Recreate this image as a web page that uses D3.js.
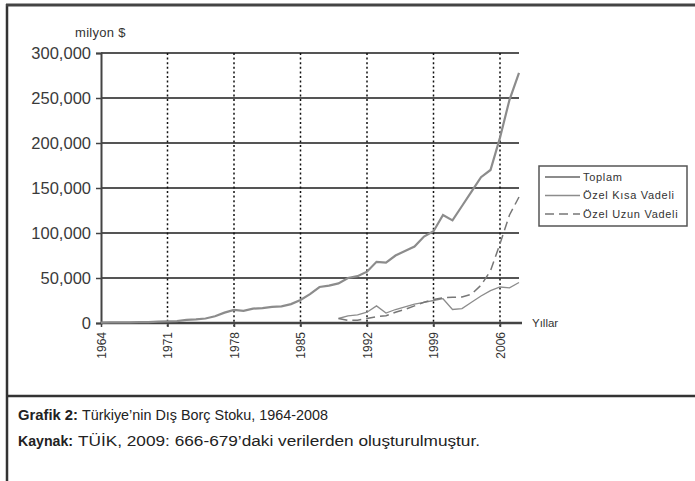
<!DOCTYPE html>
<html><head><meta charset="utf-8">
<script src="https://cdn.jsdelivr.net/npm/d3@7"></script>
<style>
html,body{margin:0;padding:0;background:#fff;}
svg{display:block;}
</style></head>
<body>
<script>
const years = d3.range(1964, 2009);
const toplam = [500,600,700,800,900,1000,1500,1800,2000,3500,4000,5000,7500,11500,14500,13500,16000,16500,18000,18500,21000,25500,32000,40000,41500,44000,50000,52000,57000,68000,67000,75000,80000,85000,96000,102000,120000,114000,130000,146000,162000,170000,206000,248000,278000];
const kisaYears = d3.range(1989, 2009);
const kisa = [5000,8000,9000,12000,19000,11000,15000,18000,21000,23000,25000,27000,15000,16000,23000,30000,36000,40000,39000,45000];
const uzun = [5000,3000,3000,5000,7000,8000,12000,15000,19000,23000,26000,28000,28500,29000,32000,42000,58000,88000,120000,140000];
const yTicks = [0,50000,100000,150000,200000,250000,300000];
const xTicks = [1964,1971,1978,1985,1992,1999,2006];
const seriesNames = ["Toplam","Özel Kısa Vadeli","Özel Uzun Vadeli"];

const W = 695, H = 481;
const svg = d3.select("body").append("svg").attr("width", W).attr("height", H);
const x = d3.scaleLinear().domain([1964, 2008]).range([101, 519]);
const y = d3.scaleLinear().domain([0, 300000]).range([323, 53]);
const font = "'Liberation Sans', Arial, sans-serif";
const narrow = "'Liberation Sans Narrow', 'Arial Narrow', 'Liberation Sans', Arial, sans-serif";

// frame
svg.append("line").attr("x1",7).attr("x2",7).attr("y1",4).attr("y2",H).attr("stroke","#333").attr("stroke-width",2.5);
svg.append("line").attr("x1",6).attr("x2",W).attr("y1",5).attr("y2",5).attr("stroke","#444").attr("stroke-width",3);
svg.append("line").attr("x1",6).attr("x2",W).attr("y1",396).attr("y2",396).attr("stroke","#333").attr("stroke-width",2.5);

// horizontal gridlines
svg.append("g").selectAll("line").data(yTicks.filter(d=>d>0)).join("line")
  .attr("x1", x(1964)).attr("x2", x(2008)).attr("y1", d=>y(d)).attr("y2", d=>y(d))
  .attr("stroke","#555").attr("stroke-width",2);

// vertical dotted gridlines
svg.append("g").selectAll("line").data(xTicks.filter(d=>d>1964)).join("line")
  .attr("x1", d=>x(d)).attr("x2", d=>x(d)).attr("y1", y(300000)).attr("y2", y(0)+4)
  .attr("stroke","#111").attr("stroke-width",1.5).attr("stroke-dasharray","2,2.6");

// y axis
const yAxis = d3.axisLeft(y).tickValues(yTicks).tickFormat(d3.format(",")).tickSize(5).tickPadding(5);
const gy = svg.append("g").attr("transform",`translate(${x(1964)},0)`).call(yAxis);
gy.select(".domain").attr("stroke","#444").attr("stroke-width",2);
gy.selectAll(".tick line").attr("stroke","#444").attr("stroke-width",1.5);
gy.selectAll("text").attr("font-family",font).attr("font-size",16.5).attr("fill","#3a3a3a").attr("dy","0.35em");

// x axis
const xAxis = d3.axisBottom(x).tickValues(xTicks).tickFormat(d3.format("d")).tickSize(4).tickSizeOuter(0);
const gx = svg.append("g").attr("transform",`translate(0,${y(0)})`).call(xAxis);
gx.select(".domain").attr("d", `M${x(1964)},0H${x(2008)+3}`).attr("stroke","#444").attr("stroke-width",2.5);
gx.selectAll(".tick line").attr("stroke","#444").attr("stroke-width",1.5);
gx.selectAll("text").attr("font-family",narrow).attr("font-size",12).attr("fill","#333")
  .attr("transform","rotate(-90)").attr("text-anchor","end").attr("x",-9).attr("y",0).attr("dy","0.35em");

// labels
svg.append("text").attr("x",75).attr("y",37).attr("font-family",narrow).attr("font-size",13).attr("fill","#333").attr("letter-spacing","0.3").text("milyon $");
svg.append("text").attr("x",532).attr("y",327).attr("font-family",narrow).attr("font-size",11.5).attr("fill","#333").text("Yıllar");

// lines
const line = d3.line().x(d=>x(d[0])).y(d=>y(d[1]));
svg.append("path").datum(years.map((yr,i)=>[yr,toplam[i]])).attr("d",line)
  .attr("fill","none").attr("stroke","#8c8c8c").attr("stroke-width",2.2);
svg.append("path").datum(kisaYears.map((yr,i)=>[yr,kisa[i]])).attr("d",line)
  .attr("fill","none").attr("stroke","#8c8c8c").attr("stroke-width",1.3);
svg.append("path").datum(kisaYears.map((yr,i)=>[yr,uzun[i]])).attr("d",line)
  .attr("fill","none").attr("stroke","#777").attr("stroke-width",1.5).attr("stroke-dasharray","9,5");

// legend
const lg = svg.append("g");
lg.append("rect").attr("x",539).attr("y",166).attr("width",148).attr("height",60)
  .attr("fill","#fff").attr("stroke","#555").attr("stroke-width",1.5);
const styles = [{w:2.2,c:"#8c8c8c",d:null},{w:1.3,c:"#8c8c8c",d:null},{w:1.5,c:"#777",d:"9,5"}];
seriesNames.forEach((n,i)=>{
  const yy = 177 + i*18.5;
  lg.append("line").attr("x1",545).attr("x2",580).attr("y1",yy).attr("y2",yy)
    .attr("stroke",styles[i].c).attr("stroke-width",styles[i].w).attr("stroke-dasharray",styles[i].d);
  lg.append("text").attr("x",583).attr("y",yy).attr("dy","0.35em").attr("font-family",narrow)
    .attr("font-size",11).attr("letter-spacing","0.7").attr("fill","#333").text(n);
});

// caption
const cap = [
  {b:"Grafik 2:", bx:18, bw:60, r:"Türkiye’nin Dış Borç Stoku, 1964-2008", rx:82, rw:246, y:420},
  {b:"Kaynak:", bx:18, bw:55, r:"TÜİK, 2009: 666-679’daki verilerden oluşturulmuştur.", rx:78, rw:402, y:446}
];
cap.forEach(c=>{
  svg.append("text").attr("x",c.bx).attr("y",c.y).attr("font-family",narrow).attr("font-size",15.5)
    .attr("font-weight","bold").attr("fill","#222").attr("textLength",c.bw).attr("lengthAdjust","spacingAndGlyphs").text(c.b);
  svg.append("text").attr("x",c.rx).attr("y",c.y).attr("font-family",narrow).attr("font-size",15.5)
    .attr("fill","#222").attr("textLength",c.rw).attr("lengthAdjust","spacingAndGlyphs").text(c.r);
});
</script>
</body></html>
